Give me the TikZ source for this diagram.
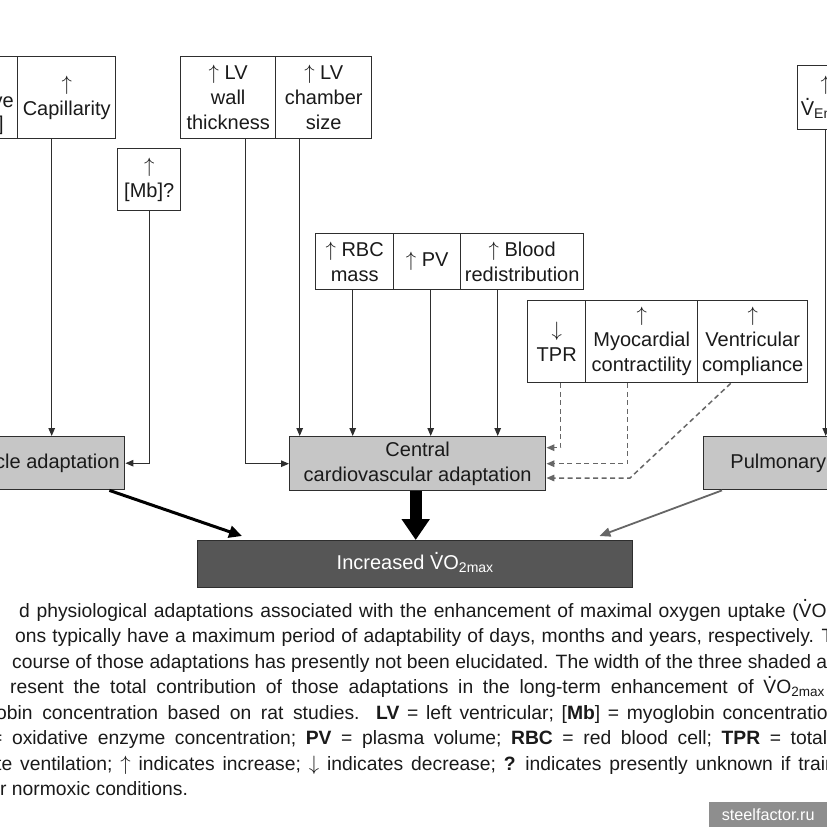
\documentclass[tikz,border=0pt]{standalone}
\usepackage{fontspec}
\setmainfont{Liberation Sans}
\usetikzlibrary{arrows.meta}
\definecolor{ink}{HTML}{1A1A1A}
\definecolor{edge}{HTML}{2E2E2E}
\definecolor{lgray}{HTML}{C6C6C6}
\definecolor{dgray}{HTML}{565656}
\definecolor{wmgray}{HTML}{8E8E8E}
\newcommand\Vd{\ooalign{V\cr\hidewidth\raisebox{0.78em}{.}\hidewidth\cr}}
\newcommand\up{$\uparrow$}
\newcommand\dn{$\downarrow$}
\newcommand\dfs{\fontsize{20}{25}\selectfont}
\newcommand\cfs{\fontsize{19.3}{25}\selectfont}
\begin{document}
\begin{tikzpicture}[x=1pt,y=-1pt,
  bx/.style={draw=edge,line width=1.4pt,fill=white,inner sep=0pt,align=center,font=\dfs,text=ink,anchor=north west},
  adapt/.style={bx,fill=lgray},
  conn/.style={draw=edge,line width=1.2pt,-{Triangle[length=8pt,width=6.5pt]}},
  dconn/.style={conn,draw=black!60,dash pattern=on 5pt off 3.5pt,line width=1.5pt},
  captxt/.style={font=\cfs,text=ink,anchor=base west,inner sep=0pt},
  lbl/.style={font=\dfs,text=ink,inner sep=0pt}
]
\useasboundingbox (0,0) rectangle (827,827);
\clip (0,0) rectangle (827,827);

% top boxes
\node[bx,minimum width=120pt,minimum height=82pt] (oxb) at (-103,56) {};
\node[lbl,anchor=base east] (oxt1) at (14,107) {Oxidative};
\node[lbl,anchor=base east] (oxt2) at (4,130) {[enzyme]};
\node[bx,minimum width=98pt,minimum height=82pt] (capb) at (17,56) {\up\\Capillarity};
\node[bx,minimum width=63pt,minimum height=62pt] (mb) at (117,148) {\up\\{[Mb]?}};
\node[bx,minimum width=95pt,minimum height=82pt] (lvw) at (180,56) {\up\ LV\\wall\\thickness};
\node[bx,minimum width=96pt,minimum height=82pt] (lvc) at (275,56) {\up\ LV\\chamber\\size};
\node[bx,minimum width=78pt,minimum height=56pt] (rbc) at (315,233) {\up\ RBC\\mass};
\node[bx,minimum width=67pt,minimum height=56pt] (pv) at (393,233) {\up\ PV};
\node[bx,minimum width=123pt,minimum height=56pt] (blood) at (460,233) {\up\ Blood\\redistribution};
\node[bx,minimum width=58pt,minimum height=82pt] (tpr) at (527,300) {\dn\\TPR};
\node[bx,minimum width=112pt,minimum height=82pt] (myo) at (585,300) {\up\\Myocardial\\contractility};
\node[bx,minimum width=110pt,minimum height=82pt] (ven) at (697,300) {\up\\Ventricular\\compliance};
\node[bx,minimum width=56pt,minimum height=64pt] (ve) at (797,65) {\up\\\Vd\textsubscript{Emax}};

% adaptation boxes
\node[adapt,minimum width=249pt,minimum height=53pt] (mus) at (-125,436) {Skeletal muscle adaptation};
\node[adapt,minimum width=256pt,minimum height=54pt] (cen) at (289,436) {Central\\cardiovascular adaptation};
\node[adapt,minimum width=248pt,minimum height=53pt] (pul) at (703,436) {Pulmonary adaptation};
\node[bx,fill=dgray,text=white,minimum width=435pt,minimum height=47pt] (inc) at (197,540) {Increased \Vd O\textsubscript{2max}};

% connectors
\draw[conn] ([xshift=-15pt]capb.south) -- ([xshift=-15pt]capb.south |- mus.north);
\draw[conn] (mb.south) |- (mus.east);
\draw[conn] ([xshift=17.5pt]lvw.south) |- (cen.west);
\draw[conn] ([xshift=-24pt]lvc.south) -- ([xshift=-24pt]lvc.south |- cen.north);
\draw[conn] ([xshift=-2pt]rbc.south) -- ([xshift=-2pt]rbc.south |- cen.north);
\draw[conn] ([xshift=3.5pt]pv.south) -- ([xshift=3.5pt]pv.south |- cen.north);
\draw[conn] ([xshift=-24.5pt]blood.south) -- ([xshift=-24.5pt]blood.south |- cen.north);
\draw[conn] (ve.south) -- (ve.south |- pul.north);

\draw[dconn] ([xshift=4pt]tpr.south) |- ([yshift=16pt]cen.east);
\draw[dconn] ([xshift=-14pt]myo.south) |- (cen.east);
\coordinate (vb) at (630,478);
\draw[dconn] ([xshift=-22pt]ven.south) -- (vb) -- (vb -| cen.east);

\draw[line width=3pt,draw=black,-{Triangle[length=13pt,width=12pt]}] ([xshift=-16pt]mus.south east) -- ([xshift=45pt,yshift=4pt]inc.north west);
\draw[line width=12pt,draw=black,-{Triangle[length=21pt,width=27pt]}] ([xshift=-2pt]cen.south) -- ([xshift=-2pt]cen.south |- inc.north);
\draw[line width=1.8pt,draw=black!60,-{Triangle[length=11pt,width=9pt]}] ([xshift=19pt]pul.south west) -- ([xshift=-34pt,yshift=4pt]inc.north east);

% caption
\node[captxt] (c1) at (19,617) {\spaceskip=6.7pt d physiological adaptations associated with the enhancement of maximal oxygen uptake (\Vd O\textsubscript{2max})};
\node[captxt] (c2) at (15,642.5) {\spaceskip=6.1pt ons typically have a maximum period of adaptability of days, months and years, respectively. The};
\node[captxt] (c3) at (12,668) {course of those adaptations has presently not been elucidated. The width of the three shaded areas};
\node[captxt] (c4) at (10,693.5) {\spaceskip=9.75pt resent the total contribution of those adaptations in the long-term enhancement of \Vd O\textsubscript{2max}};
\node[captxt] (c5a) at (-4,719) {\spaceskip=9.6pt obin concentration based on rat studies.};
\node[captxt] (c5b) at (376,719) {\spaceskip=7.7pt \textbf{LV} = left ventricular; [\textbf{Mb}] = myoglobin concentration;};
\node[captxt] (c6) at (-9,744.5) {\spaceskip=9.6pt = oxidative enzyme concentration; \textbf{PV} = plasma volume; \textbf{RBC} = red blood cell; \textbf{TPR} = total};
\node[captxt] (c7) at (-4,770) {\spaceskip=7.9pt te ventilation; \up\ indicates increase; \dn\ indicates decrease; \textbf{?} indicates presently unknown if training};
\node[captxt] (c8) at (0,795.5) {r normoxic conditions.};

% watermark
\node[fill=wmgray,minimum width=118pt,minimum height=25pt,anchor=north west,inner sep=0pt,text=white,font=\fontsize{16.2}{18}\selectfont] (wm) at (709,802) {steelfactor.ru};
\end{tikzpicture}
\end{document}
